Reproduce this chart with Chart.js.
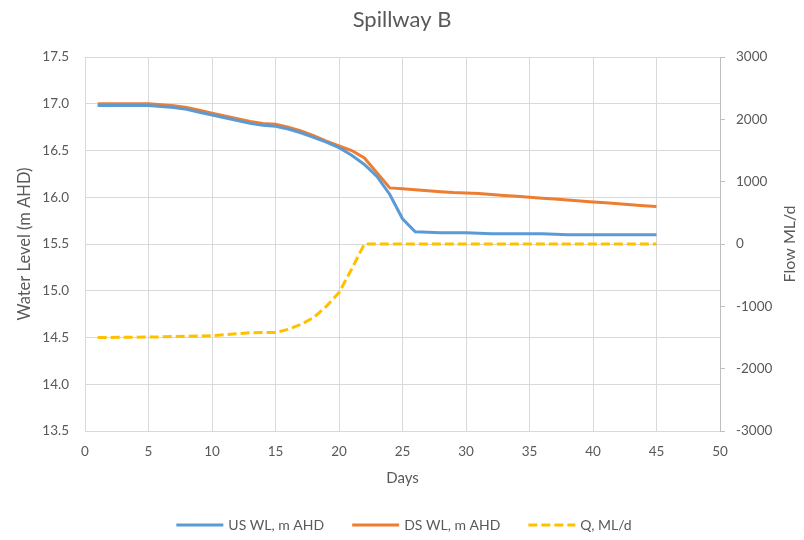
<!DOCTYPE html>
<html lang="en">
<head>
    <meta charset="UTF-8">
    <title>Spillway B</title>
    <script src="https://cdn.jsdelivr.net/npm/chart.js"></script>
    <style>
        body { margin: 0; background: #fff; }
        #wrap { width: 804px; height: 540px; }
    </style>
</head>
<body>
    <div id="wrap"><canvas id="spillwayChart" width="804" height="540"></canvas></div>

    <script>
        // Daily readings, days 1 to 45
        const days = [1, 2, 3, 4, 5, 6, 7, 8, 9, 10, 11, 12, 13, 14, 15, 16, 17, 18, 19, 20, 21, 22, 23,
                      24, 25, 26, 27, 28, 29, 30, 31, 32, 33, 34, 35, 36, 37, 38, 39, 40, 41, 42, 43, 44, 45];

        // upstream water level, m AHD
        const usWL = [16.98, 16.98, 16.98, 16.98, 16.98, 16.97, 16.96, 16.94, 16.91, 16.88, 16.85, 16.82,
                      16.79, 16.77, 16.76, 16.73, 16.69, 16.64, 16.59, 16.53, 16.45, 16.35, 16.22, 16.03,
                      15.77, 15.63, 15.625, 15.62, 15.62, 15.62, 15.615, 15.61, 15.61, 15.61, 15.61, 15.61,
                      15.605, 15.60, 15.60, 15.60, 15.60, 15.60, 15.60, 15.60, 15.60];

        // downstream water level, m AHD
        const dsWL = [17.00, 17.00, 17.00, 17.00, 17.00, 16.99, 16.98, 16.96, 16.93, 16.90, 16.87, 16.84,
                      16.81, 16.79, 16.78, 16.75, 16.71, 16.66, 16.60, 16.55, 16.50, 16.42, 16.26, 16.10,
                      16.09, 16.08, 16.07, 16.06, 16.05, 16.045, 16.04, 16.03, 16.02, 16.01, 16.00, 15.99,
                      15.98, 15.97, 15.96, 15.95, 15.94, 15.93, 15.92, 15.91, 15.90];

        // flow, ML/d
        const flowQ = [-1500, -1500, -1495, -1495, -1490, -1490, -1485, -1480, -1475, -1470, -1455, -1440,
                       -1425, -1420, -1420, -1370, -1290, -1180, -1000, -780, -400, 0, 0, 0, 0, 0, 0, 0,
                       0, 0, 0, 0, 0, 0, 0, 0, 0, 0, 0, 0, 0, 0, 0, 0, 0];

        const labels = ['US WL, m AHD', 'DS WL, m AHD', 'Q, ML/d'];

        const textColor = '#595959';
        const gridColor = '#d9d9d9';
        const fontFamily = 'Lato, "Open Sans", sans-serif';
        Chart.defaults.font.family = fontFamily;
        Chart.defaults.color = textColor;

        function toPoints(values) {
            return days.map((d, i) => ({ x: d, y: values[i] }));
        }

        // legend and right-hand axis title drawn by hand (dashed sample, upward text)
        const extras = {
            id: 'extras',
            afterDraw(chart) {
                const ctx = chart.ctx;
                const y = 525;
                const lineLen = 47, gap = 5, spacing = 28;
                ctx.save();
                ctx.font = '14px ' + fontFamily;
                const widths = chart.data.datasets.map(ds => lineLen + gap + ctx.measureText(ds.label).width);
                const total = widths.reduce((a, b) => a + b, 0) + spacing * (widths.length - 1);
                let x = 404 - total / 2;
                chart.data.datasets.forEach((ds, i) => {
                    ctx.beginPath();
                    ctx.strokeStyle = ds.borderColor;
                    ctx.lineWidth = 3;
                    ctx.setLineDash(ds.borderDash || []);
                    ctx.moveTo(x, y);
                    ctx.lineTo(x + lineLen, y);
                    ctx.stroke();
                    ctx.setLineDash([]);
                    ctx.fillStyle = textColor;
                    ctx.textBaseline = 'middle';
                    ctx.textAlign = 'left';
                    ctx.fillText(ds.label, x + lineLen + gap, y);
                    x += widths[i] + spacing;
                });

                const y1 = chart.scales.y1;
                ctx.translate(790, (y1.top + y1.bottom) / 2);
                ctx.rotate(-Math.PI / 2);
                ctx.font = '16px ' + fontFamily;
                ctx.textAlign = 'center';
                ctx.textBaseline = 'middle';
                ctx.fillText('Flow ML/d', 0, 0);
                ctx.restore();
            }
        };

        const ctx = document.getElementById('spillwayChart').getContext('2d');
        const spillwayChart = new Chart(ctx, {
            type: 'line',
            data: {
                datasets: [
                    {
                        label: labels[0],
                        data: toPoints(usWL),
                        borderColor: '#5b9bd5',
                        borderWidth: 3,
                        pointRadius: 0,
                        yAxisID: 'y'
                    },
                    {
                        label: labels[1],
                        data: toPoints(dsWL),
                        borderColor: '#ed7d31',
                        borderWidth: 3,
                        pointRadius: 0,
                        yAxisID: 'y'
                    },
                    {
                        label: labels[2],
                        data: toPoints(flowQ),
                        borderColor: '#ffc000',
                        borderWidth: 3,
                        borderDash: [9, 4],
                        pointRadius: 0,
                        yAxisID: 'y1'
                    }
                ]
            },
            options: {
                responsive: false,
                animation: false,
                devicePixelRatio: 1,
                layout: { padding: { left: 0, right: 0, top: 0, bottom: 47 } },
                scales: {
                    x: {
                        type: 'linear',
                        min: 0,
                        max: 50,
                        ticks: { stepSize: 5, padding: 13, font: { size: 13.5 } },
                        grid: { color: gridColor, drawTicks: false },
                        border: { color: gridColor },
                        title: { display: true, text: 'Days', font: { size: 15 }, padding: { bottom: 6 } },
                        afterFit(scale) { scale.height = 62; }
                    },
                    y: {
                        position: 'left',
                        min: 13.5,
                        max: 17.5,
                        ticks: {
                            stepSize: 0.5,
                            padding: 16,
                            font: { size: 13.5 },
                            callback: v => v.toFixed(1)
                        },
                        grid: { color: gridColor, drawTicks: false },
                        border: { color: gridColor },
                        title: {
                            display: true,
                            text: 'Water Level (m AHD)',
                            font: { size: 16.5 },
                            padding: { top: 15 }
                        },
                        afterFit(scale) { scale.width = 85; }
                    },
                    y1: {
                        position: 'right',
                        min: -3000,
                        max: 3000,
                        ticks: {
                            stepSize: 1000,
                            padding: 11,
                            font: { size: 13.5 },
                            callback: v => String(v)
                        },
                        grid: { drawOnChartArea: false, drawTicks: true, tickLength: 5, color: '#bfbfbf' },
                        border: { color: '#bfbfbf' },
                        afterFit(scale) { scale.width = 84; }
                    }
                },
                plugins: {
                    legend: { display: false },
                    tooltip: { enabled: false },
                    title: {
                        display: true,
                        text: 'Spillway B',
                        font: { size: 22, weight: 'normal' },
                        color: textColor,
                        padding: { top: 7, bottom: 23.6 }
                    }
                }
            },
            plugins: [extras]
        });
    </script>
</body>
</html>
